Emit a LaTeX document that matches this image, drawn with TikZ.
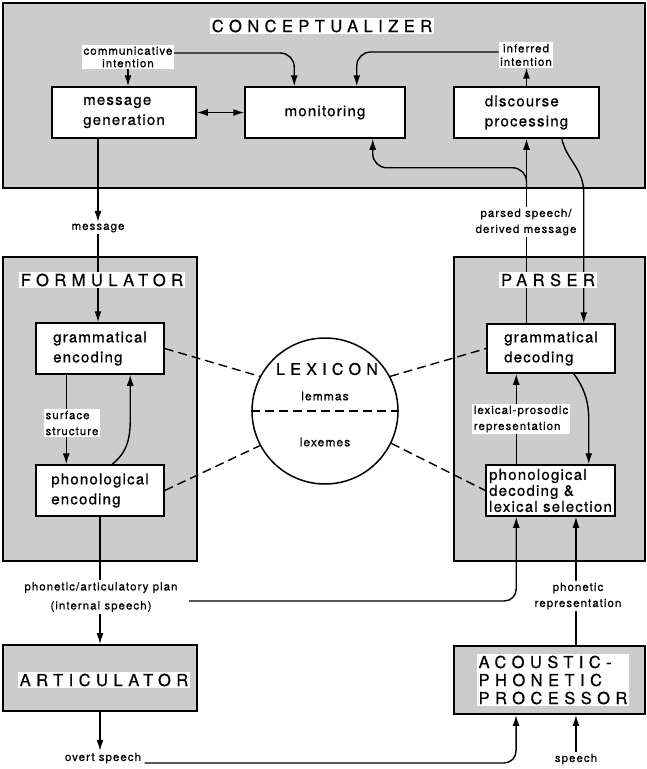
\documentclass[tikz,border=0pt]{standalone}
\usepackage{fontspec}
\setmainfont{TeX Gyre Heros}
\newfontfamily\titlefont[LetterSpace=33, FakeBold=0.6]{TeX Gyre Heros}
\newfontfamily\boxfont[LetterSpace=8, FakeBold=0.6]{TeX Gyre Heros}
\newfontfamily\labfont[LetterSpace=9, FakeBold=0.7]{TeX Gyre Heros}
\usetikzlibrary{arrows.meta, calc}
\pgfdeclarelayer{bg}
\pgfdeclarelayer{lines}
\pgfsetlayers{bg,lines,main}

\tikzset{
	module/.style={draw, line width=1.9pt, fill=black!20, inner sep=0pt},
	proc/.style={draw, line width=1.5pt, fill=white, inner sep=0pt, align=left, font=\boxfont\fontsize{15}{20}\selectfont},
	title/.style={fill=white, inner sep=2pt, align=left, font=\titlefont\fontsize{16.5}{18}\selectfont},
	lab/.style={fill=white, inner sep=1.5pt, align=center, font=\labfont\fontsize{11.5}{16}\selectfont},
	conn/.style={line width=1.4pt, -{Latex[length=11pt,width=7pt]}},
	both/.style={line width=1.4pt, {Latex[length=11pt,width=7pt]}-{Latex[length=11pt,width=7pt]}},
	wire/.style={line width=1.4pt},
	lexlink/.style={line width=1.4pt, dash pattern=on 9pt off 5pt},
}

\begin{document}
\begin{tikzpicture}[x=1pt,y=-1pt]
	\useasboundingbox (0,0) rectangle (646,769);
	
	% the five modules
	\begin{pgfonlayer}{bg}
		\node[module, minimum width=642pt, minimum height=185pt] (concept) at (324,95.5) {};
		\node[module, minimum width=194pt, minimum height=304pt] (formul) at (100,409) {};
		\node[module, minimum width=191pt, minimum height=304pt] (parser) at (549.5,409) {};
		\node[module, minimum width=194pt, minimum height=66pt] (artic) at (100,678) {};
		\node[module, minimum width=191pt, minimum height=68pt] (acoustic) at (549.5,680) {};
	\end{pgfonlayer}
	
	\node[title] (tConcept) at (322,26) {CONCEPTUALIZER};
	\node[title] (tFormul) at (102,280) {FORMULATOR};
	\node[title] (tParser) at (548,280) {PARSER};
	\node[title] (tArtic) at (104,680) {ARTICULATOR};
	\node[title] (tAcoustic) at (553,680) {ACOUSTIC-\\PHONETIC\\PROCESSOR};
	
	% processing components
	\node[proc, minimum width=144pt, minimum height=51pt] (msggen) at (124,112.5) {message\\generation};
	\node[proc, minimum width=160pt, minimum height=51pt] (monitor) at (325,112.5) {monitoring};
	\node[proc, minimum width=145pt, minimum height=51pt] (discourse) at (526.5,112.5) {discourse\\processing};
	\node[proc, minimum width=128pt, minimum height=51pt] (gramenc) at (100,348.5) {grammatical\\encoding};
	\node[proc, minimum width=128pt, minimum height=51pt] (phonenc) at (100,490.5) {phonological\\encoding};
	\node[proc, minimum width=128pt, minimum height=49pt] (gramdec) at (551,348.5) {grammatical\\decoding};
	\node[proc, minimum width=129pt, minimum height=51pt, font=\boxfont\fontsize{15}{16}\selectfont] (phondec) at (550.5,490.5) {phonological\\decoding \&\\lexical selection};
	
	% lexicon
	\node[circle, draw, line width=1.5pt, minimum size=146pt, inner sep=0pt] (lex) at (325,411) {};
	\node[font=\titlefont\fontsize{16}{18}\selectfont] (tLex) at (327,369) {LEXICON};
	\node[font=\labfont\fontsize{12}{14}\selectfont] (lemma) at (325,396) {lemmas};
	\node[font=\labfont\fontsize{12}{14}\selectfont] (lexeme) at (325,442) {lexemes};
	
	% labels on the connectors
	\node[lab, font=\labfont\fontsize{11.5}{12.5}\selectfont] (lComint) at (128,57) {communicative\\intention};
	\node[lab, font=\labfont\fontsize{11.5}{13.5}\selectfont] (lInfint) at (526,55) {inferred\\intention};
	\node[lab] (lMsg) at (98,228) {message};
	\node[lab] (lParsed) at (526,222) {parsed speech/\\derived message};
	\node[lab, align=left] (lSurface) at (72,423) {surface\\structure};
	\node[lab, align=left] (lLexpros) at (521,419) {lexical-prosodic\\representation};
	\node[lab, font=\labfont\fontsize{11.5}{19}\selectfont] (lPlan) at (101,597) {phonetic/articulatory plan\\(internal speech)};
	\node[lab] (lPhonrep) at (578,596) {phonetic\\representation};
	\node[lab] (lOvert) at (103,758) {overt speech};
	\node[lab] (lSpeech) at (576,759) {speech};
	
	\begin{pgfonlayer}{lines}
		% conceptualizer
		\draw[conn] (lComint.south) -- (lComint.south |- msggen.north);
		\draw[conn, rounded corners=14pt] ($(lComint.east)+(0,-4)$) -| ($(monitor.north west)+(50,0)$);
		\draw[conn, rounded corners=14pt] ($(lInfint.west)+(0,-3)$) -| ($(monitor.north east)+(-49,0)$);
		\draw[conn] (discourse.north) -- (discourse.north |- lInfint.south);
		\draw[both] (msggen.east) -- (monitor.west);
		
		% formulator
		\draw[conn] (lMsg |- msggen.south) -- (lMsg.north);
		\draw[conn] (lMsg.south) -- (lMsg |- gramenc.north);
		\draw[conn] ($(gramenc.south west)+(31,0)$) -- ($(phonenc.north west)+(31,0)$);
		\draw[conn] ($(phonenc.north west)+(77,0)$) .. controls +(10,-8) and +(0,25) .. ($(gramenc.south west)+(95,46)$) -- ($(gramenc.south west)+(95,0)$);
		
		% parser
		\draw[conn] (gramdec.north -| discourse.south) -- (discourse.south);
		\draw[conn, rounded corners=14pt] (discourse.south |- concept.south) |- ($(monitor.south east)+(-33,29)$) -- ($(monitor.south east)+(-33,0)$);
		\draw[conn] ($(discourse.south east)+(-38,0)$) .. controls +(5,22) and +(0,-25) .. ($(gramdec.north east)+(-32,-130)$) -- ($(gramdec.north east)+(-32,0)$);
		\draw[conn] ($(gramdec.south east)+(-42,0)$) .. controls +(9,12) and +(0,-20) .. ($(phondec.north east)+(-27,-45)$) -- ($(phondec.north east)+(-27,0)$);
		\draw[conn] ($(phondec.north west)+(31,0)$) -- ($(gramdec.south west)+(30,0)$);
		
		% lexicon links
		\draw[lexlink] (lex.west) -- (lex.east);
		\draw[lexlink] (gramenc.east) -- (lex.152);
		\draw[lexlink] (phonenc.east) -- (lex.208);
		\draw[lexlink] (lex.28) -- (gramdec.west);
		\draw[lexlink] (lex.-26) -- (phondec.west);
		
		% articulation and audition
		\draw[wire] (phonenc.south) -- (phonenc.south |- lPlan.north);
		\draw[conn] (phonenc.south |- lPlan.south) -- (phonenc.south |- artic.north);
		\draw[conn, rounded corners=12pt] ($(lPlan.east)+(10,4)$) -| ($(phondec.south west)+(31,0)$);
		\coordinate (repX) at ($(acoustic.north east)+(-70,0)$);
		\draw[wire] (repX) -- (repX |- lPhonrep.south);
		\draw[conn] (repX |- lPhonrep.north) -- (repX |- phondec.south);
		\draw[conn] (artic.south) -- (artic.south |- lOvert.north);
		\draw[conn, rounded corners=12pt] ($(lOvert.east)+(2,5)$) -| ($(acoustic.south west)+(63,0)$);
		\draw[conn] (repX |- lSpeech.north) -- (repX |- acoustic.south);
	\end{pgfonlayer}
\end{tikzpicture}
\end{document}
